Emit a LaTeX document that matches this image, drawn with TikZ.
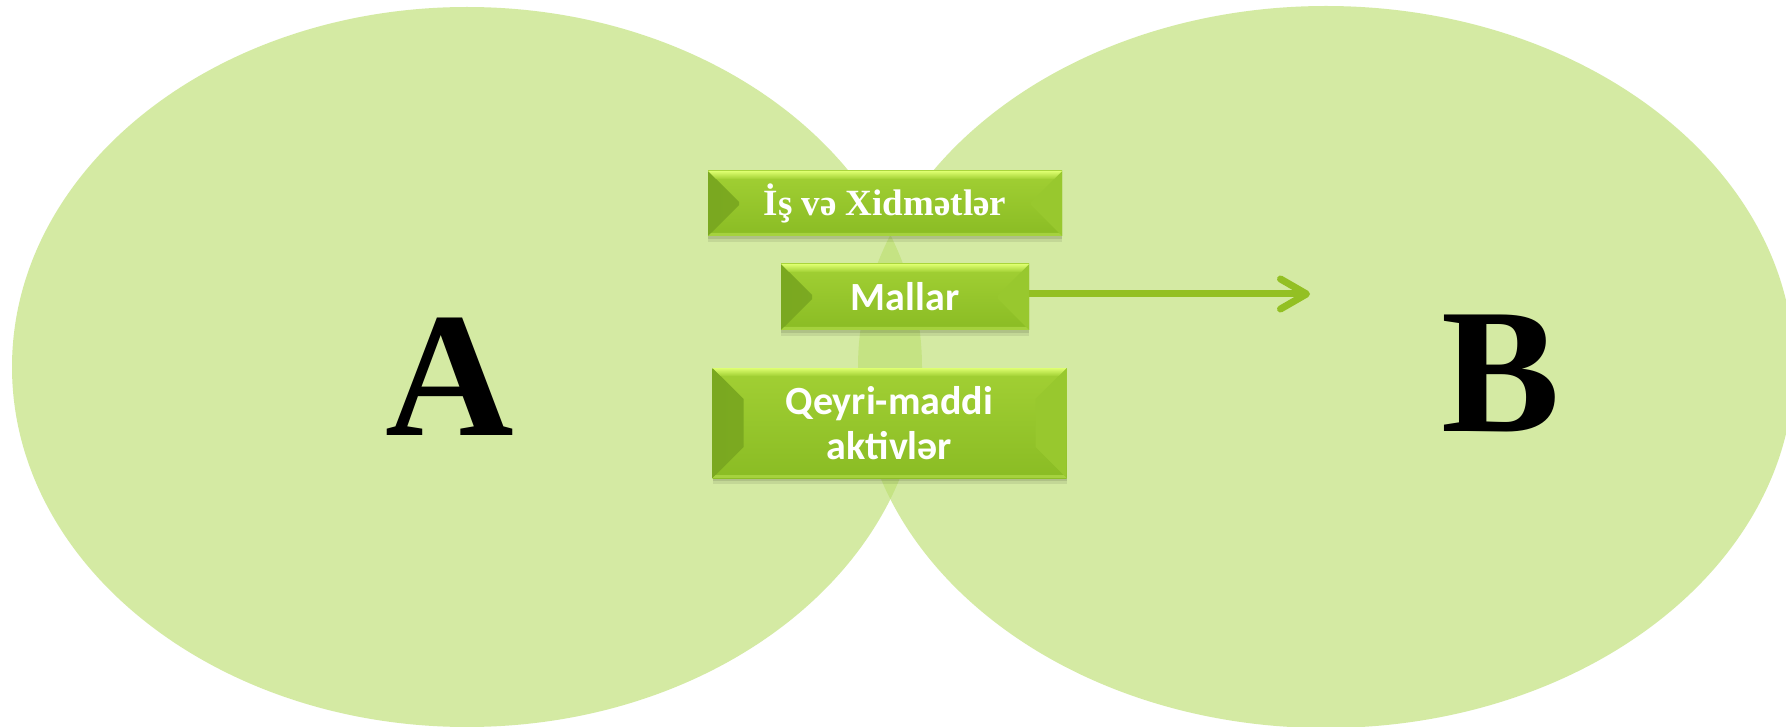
\documentclass[tikz,border=0pt]{standalone}
\usepackage{fontspec}
\setmainfont{Liberation Serif}
\newfontfamily\boxsans{Carlito}
\usetikzlibrary{arrows.meta,shadows}
\definecolor{ellC}{RGB}{189,224,115}
\definecolor{frontT}{RGB}{162,208,52}
\definecolor{frontB}{RGB}{138,188,36}
\definecolor{bevL}{RGB}{122,168,32}
\definecolor{bevLb}{RGB}{134,182,38}
\definecolor{bevR}{RGB}{152,200,46}
\definecolor{topY}{RGB}{222,255,112}
\definecolor{botL}{RGB}{165,210,62}
\definecolor{arrC}{RGB}{147,192,35}
\tikzset{
  blob/.style={fill=ellC, fill opacity=0.65},
  bevelbox/.style={rectangle, inner sep=0pt, text=white, align=center,
    top color=frontT, bottom color=frontB,
    general shadow={fill=black, opacity=0.08, shadow yshift=-6pt},
    general shadow={fill=black, opacity=0.10, shadow yshift=-3pt},
    path picture={
      \shade[left color=bevL, right color=bevLb] (path picture bounding box.north west)
        -- ([shift={(31pt,-31pt)}]path picture bounding box.north west)
        -- ([shift={(31pt,31pt)}]path picture bounding box.south west)
        -- (path picture bounding box.south west) -- cycle;
      \fill[bevR] (path picture bounding box.north east)
        -- ([shift={(-31pt,-31pt)}]path picture bounding box.north east)
        -- ([shift={(-31pt,31pt)}]path picture bounding box.south east)
        -- (path picture bounding box.south east) -- cycle;
      \shade[top color=topY, bottom color=frontT]
        (path picture bounding box.north west)
        -- (path picture bounding box.north east)
        -- ([shift={(-8pt,-8pt)}]path picture bounding box.north east)
        -- ([shift={(8pt,-8pt)}]path picture bounding box.north west) -- cycle;
      \fill[botL] (path picture bounding box.south west)
        -- (path picture bounding box.south east)
        -- ([shift={(-3pt,3pt)}]path picture bounding box.south east)
        -- ([shift={(3pt,3pt)}]path picture bounding box.south west) -- cycle;
    }},
  serifbox/.style={bevelbox, font=\bfseries\fontsize{37}{42}\selectfont},
  sansbox/.style={bevelbox, font=\boxsans\bfseries\fontsize{40}{45}\selectfont},
  bigletter/.style={anchor=base, font=\bfseries\fontsize{178}{178}\selectfont},
  flow/.style={draw=arrC, line width=7pt,
    -{Straight Barb[length=26pt,width=30pt,line cap=round,line join=round]}}
}
\begin{document}
\begin{tikzpicture}[x=1pt,y=-1pt]
\useasboundingbox (0,0) rectangle (1786,727);
\clip (0,0) rectangle (1786,727);
\fill[white] (0,0) rectangle (1786,727);
\fill[blob] (467,367) ellipse [x radius=455, y radius=360];
\fill[blob] (1326,367) ellipse [x radius=468, y radius=361];
\node[serifbox, minimum width=354pt, minimum height=65pt] (isx) at (885,203.5) {İş və Xidmətlər};
\node[sansbox, minimum width=248pt, minimum height=66pt] (mallar) at (905,297) {Mallar};
\node[sansbox, minimum width=354pt, minimum height=110pt] (qeyri) at (889.5,423) {Qeyri-maddi\\aktivlər};
\coordinate (tip) at (1310,294);
\draw[flow] (mallar.east |- tip) -- (tip);
\node[bigletter] (A) at (450,435) {A};
\node[bigletter] (B) at (1501,431) {B};
\end{tikzpicture}
\end{document}
